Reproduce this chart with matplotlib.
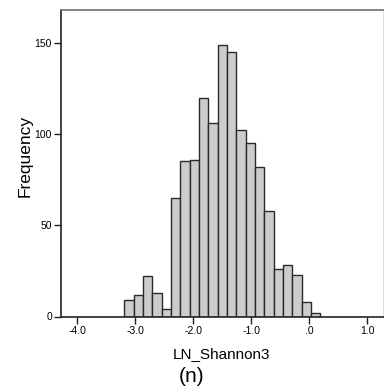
import numpy as np
import matplotlib
matplotlib.use("Agg")
import matplotlib.pyplot as plt

plt.rcParams['font.family'] = ['Liberation Sans', 'DejaVu Sans']

# Data
counts = [9, 12, 22, 13, 4, 65, 85, 86, 120, 106, 149, 145, 102, 95, 82, 58, 26, 28, 23, 8, 2]
bin_start = -3.19
bin_width = 0.161
x_ticks = [-4.0, -3.0, -2.0, -1.0, 0.0, 1.0]
x_ticklabels = ["-4.0", "-3.0", "-2.0", "-1.0", ".0", "1.0"]
y_ticks = [0, 50, 100, 150]
y_ticklabels = ["0", "50", "100", "150"]
x_label = "LN_Shannon3"
y_label = "Frequency"
panel_label = "(n)"

W, H = 384, 392
fig = plt.figure(figsize=(W / 100, H / 100), dpi=100)
ax = fig.add_axes([61 / W, (H - 316.5) / H, (383.5 - 61) / W, (316.5 - 10) / H])

edges = bin_start + bin_width * np.arange(len(counts) + 1)
ax.bar(edges[:-1], counts, width=bin_width, align='edge',
       color='#cccccc', edgecolor='#2a2a2a', linewidth=1.0)

ax.set_xlim(-4.28, 1.28)
ax.set_ylim(0, 168)
ax.set_xticks(x_ticks)
ax.set_xticklabels(x_ticklabels)
ax.set_yticks(y_ticks)
ax.set_yticklabels(y_ticklabels)
ax.tick_params(axis='both', direction='out', length=5, width=1, color='#222222',
               labelsize=7.5, pad=1.5)

ax.spines['left'].set_color('#222222')
ax.spines['bottom'].set_color('#222222')
ax.spines['top'].set_color('#707070')
ax.spines['right'].set_color('#d8d8d8')
for s in ax.spines.values():
    s.set_linewidth(1.2)

fig.text(221 / W, (H - 358) / H, x_label, ha='center', va='baseline', fontsize=11)
fig.text(192 / W, (H - 376.5) / H, panel_label, ha='center', va='center', fontsize=15)
fig.text(25 / W, (H - 156) / H, y_label, ha='center', va='center', rotation=90, fontsize=12.5)

fig.savefig("out.png", dpi=100)
